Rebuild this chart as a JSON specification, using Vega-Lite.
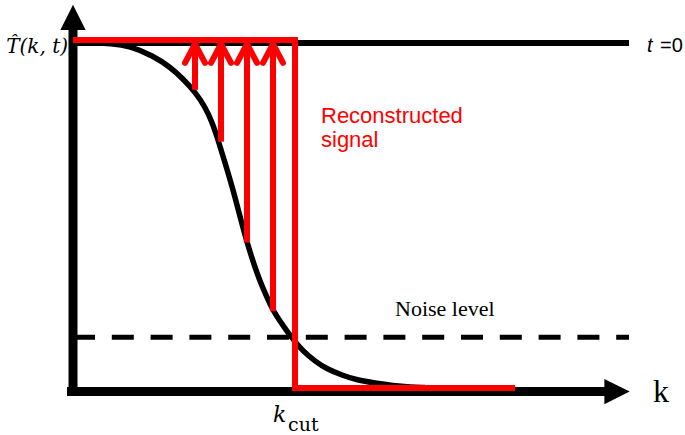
{
  "$schema": "https://vega.github.io/schema/vega-lite/v6.json",
  "width": 685,
  "height": 435,
  "autosize": {"type": "fit", "contains": "padding"},
  "padding": 0,
  "background": "white",
  "view": {"stroke": null},
  "config": {"axis": {"disable": true}},
  "datasets": {
    "guides": [
      {"kind": "dash", "x": 73, "y": 338, "x2": 629, "y2": 338},
      {"kind": "top", "x": 73, "y": 43, "x2": 629, "y2": 43}
    ],
    "axes": [
      {"x": 73, "y": 397, "x2": 73, "y2": 28},
      {"x": 67, "y": 392.5, "x2": 606, "y2": 392.5}
    ],
    "heads": [
      {"dir": "up", "x": 73, "y": 17.5},
      {"dir": "right", "x": 617, "y": 392.5}
    ],
    "curve": [
      {"x": 80, "y": 43}, {"x": 95, "y": 43}, {"x": 110, "y": 43.5}, {"x": 130, "y": 46}, {"x": 153, "y": 56},
      {"x": 170, "y": 67}, {"x": 183, "y": 79}, {"x": 195, "y": 92}, {"x": 205, "y": 107},
      {"x": 212, "y": 122}, {"x": 218, "y": 140}, {"x": 225, "y": 163}, {"x": 233, "y": 190},
      {"x": 240, "y": 217}, {"x": 247, "y": 243}, {"x": 254, "y": 265}, {"x": 260, "y": 282},
      {"x": 267, "y": 298}, {"x": 273, "y": 311}, {"x": 280, "y": 322}, {"x": 287, "y": 332},
      {"x": 293, "y": 340}, {"x": 303, "y": 352}, {"x": 315, "y": 362}, {"x": 327, "y": 370},
      {"x": 342, "y": 376}, {"x": 357, "y": 381}, {"x": 375, "y": 384}, {"x": 393, "y": 386.5},
      {"x": 410, "y": 388}, {"x": 425, "y": 388.5}
    ],
    "step": [
      {"i": 0, "x": 73, "y": 40},
      {"i": 1, "x": 295, "y": 40},
      {"i": 2, "x": 295, "y": 389},
      {"i": 3, "x": 515, "y": 389}
    ],
    "shafts": [
      {"x": 195, "y": 90, "y2": 44},
      {"x": 221, "y": 142, "y2": 44},
      {"x": 247, "y": 243, "y2": 44},
      {"x": 273, "y": 312, "y2": 44}
    ],
    "chevrons": [
      {"a": 1, "i": 0, "x": 185, "y": 63}, {"a": 1, "i": 1, "x": 195, "y": 44}, {"a": 1, "i": 2, "x": 205, "y": 63},
      {"a": 2, "i": 0, "x": 211, "y": 63}, {"a": 2, "i": 1, "x": 221, "y": 44}, {"a": 2, "i": 2, "x": 231, "y": 63},
      {"a": 3, "i": 0, "x": 237, "y": 63}, {"a": 3, "i": 1, "x": 247, "y": 44}, {"a": 3, "i": 2, "x": 257, "y": 63},
      {"a": 4, "i": 0, "x": 263, "y": 63}, {"a": 4, "i": 1, "x": 273, "y": 44}, {"a": 4, "i": 2, "x": 283, "y": 63}
    ],
    "labels": [
      {"kind": "that", "text": "T̂(k, t)", "x": 68, "y": 53},
      {"kind": "t", "text": "t", "x": 647, "y": 52},
      {"kind": "eq", "text": "=0", "x": 660, "y": 52},
      {"kind": "rec", "text": "Reconstructed", "x": 321, "y": 123},
      {"kind": "rec", "text": "signal", "x": 321, "y": 147},
      {"kind": "noise", "text": "Noise level", "x": 395, "y": 317},
      {"kind": "kc", "text": "k", "x": 273, "y": 423},
      {"kind": "cut", "text": "cut", "x": 288, "y": 432},
      {"kind": "kaxis", "text": "k", "x": 653, "y": 403}
    ]
  },
  "layer": [
    {
      "data": {"name": "guides"},
      "transform": [{"filter": "datum.kind === 'dash'"}],
      "mark": {"type": "rule", "color": "black", "strokeWidth": 5, "strokeDash": [22, 16.8], "strokeCap": "butt"},
      "encoding": {
        "x": {"field": "x", "type": "quantitative", "scale": {"domain": [0, 685], "nice": false, "zero": false}, "axis": null},
        "x2": {"field": "x2"},
        "y": {"field": "y", "type": "quantitative", "scale": {"domain": [0, 435], "nice": false, "zero": false, "reverse": true}, "axis": null},
        "y2": {"field": "y2"}
      }
    },
    {
      "data": {"name": "guides"},
      "transform": [{"filter": "datum.kind === 'top'"}],
      "mark": {"type": "rule", "color": "black", "strokeWidth": 6, "strokeCap": "butt"},
      "encoding": {
        "x": {"field": "x", "type": "quantitative", "axis": null},
        "x2": {"field": "x2"},
        "y": {"field": "y", "type": "quantitative", "axis": null},
        "y2": {"field": "y2"}
      }
    },
    {
      "data": {"name": "axes"},
      "mark": {"type": "rule", "color": "black", "strokeWidth": 9, "strokeCap": "butt"},
      "encoding": {
        "x": {"field": "x", "type": "quantitative", "axis": null},
        "x2": {"field": "x2"},
        "y": {"field": "y", "type": "quantitative", "axis": null},
        "y2": {"field": "y2"}
      }
    },
    {
      "data": {"name": "heads"},
      "mark": {"type": "point", "filled": true, "color": "black", "opacity": 1, "size": 640, "strokeWidth": 0},
      "encoding": {
        "x": {"field": "x", "type": "quantitative", "axis": null},
        "y": {"field": "y", "type": "quantitative", "axis": null},
        "shape": {"field": "dir", "type": "nominal", "scale": {"domain": ["up", "right"], "range": ["M0,-1L1,1L-1,1Z", "M1,0L-1,-1L-1,1Z"]}, "legend": null}
      }
    },
    {
      "data": {"name": "curve"},
      "mark": {"type": "line", "color": "black", "strokeWidth": 5.5, "interpolate": "basis"},
      "encoding": {
        "x": {"field": "x", "type": "quantitative", "axis": null},
        "y": {"field": "y", "type": "quantitative", "axis": null}
      }
    },
    {
      "data": {"name": "step"},
      "mark": {"type": "line", "color": "#ff0000", "strokeWidth": 6, "strokeJoin": "miter", "strokeCap": "butt"},
      "encoding": {
        "x": {"field": "x", "type": "quantitative", "axis": null},
        "y": {"field": "y", "type": "quantitative", "axis": null},
        "order": {"field": "i", "type": "quantitative"}
      }
    },
    {
      "data": {"name": "shafts"},
      "mark": {"type": "rule", "color": "#ff0000", "strokeWidth": 6, "strokeCap": "butt"},
      "encoding": {
        "x": {"field": "x", "type": "quantitative", "axis": null},
        "y": {"field": "y", "type": "quantitative", "axis": null},
        "y2": {"field": "y2"}
      }
    },
    {
      "data": {"name": "chevrons"},
      "mark": {"type": "line", "color": "#ff0000", "strokeWidth": 6, "strokeJoin": "miter", "strokeCap": "round"},
      "encoding": {
        "x": {"field": "x", "type": "quantitative", "axis": null},
        "y": {"field": "y", "type": "quantitative", "axis": null},
        "detail": {"field": "a", "type": "nominal"},
        "order": {"field": "i", "type": "quantitative"}
      }
    },
    {
      "data": {"name": "labels"},
      "transform": [{"filter": "datum.kind === 'that'"}],
      "mark": {"type": "text", "font": "DejaVu Serif", "fontStyle": "italic", "fontSize": 20, "align": "right", "baseline": "alphabetic", "color": "black"},
      "encoding": {
        "x": {"field": "x", "type": "quantitative", "axis": null},
        "y": {"field": "y", "type": "quantitative", "axis": null},
        "text": {"field": "text"}
      }
    },
    {
      "data": {"name": "labels"},
      "transform": [{"filter": "datum.kind === 't'"}],
      "mark": {"type": "text", "font": "Liberation Sans", "fontStyle": "italic", "fontSize": 20, "align": "left", "baseline": "alphabetic", "color": "black"},
      "encoding": {
        "x": {"field": "x", "type": "quantitative", "axis": null},
        "y": {"field": "y", "type": "quantitative", "axis": null},
        "text": {"field": "text"}
      }
    },
    {
      "data": {"name": "labels"},
      "transform": [{"filter": "datum.kind === 'eq'"}],
      "mark": {"type": "text", "font": "Liberation Sans", "fontSize": 20, "align": "left", "baseline": "alphabetic", "color": "black"},
      "encoding": {
        "x": {"field": "x", "type": "quantitative", "axis": null},
        "y": {"field": "y", "type": "quantitative", "axis": null},
        "text": {"field": "text"}
      }
    },
    {
      "data": {"name": "labels"},
      "transform": [{"filter": "datum.kind === 'rec'"}],
      "mark": {"type": "text", "font": "Liberation Sans", "fontSize": 22, "align": "left", "baseline": "alphabetic", "color": "#ff0000"},
      "encoding": {
        "x": {"field": "x", "type": "quantitative", "axis": null},
        "y": {"field": "y", "type": "quantitative", "axis": null},
        "text": {"field": "text"}
      }
    },
    {
      "data": {"name": "labels"},
      "transform": [{"filter": "datum.kind === 'noise'"}],
      "mark": {"type": "text", "font": "Liberation Serif", "fontSize": 22, "align": "left", "baseline": "alphabetic", "color": "black"},
      "encoding": {
        "x": {"field": "x", "type": "quantitative", "axis": null},
        "y": {"field": "y", "type": "quantitative", "axis": null},
        "text": {"field": "text"}
      }
    },
    {
      "data": {"name": "labels"},
      "transform": [{"filter": "datum.kind === 'kc'"}],
      "mark": {"type": "text", "font": "DejaVu Serif", "fontStyle": "italic", "fontSize": 22, "align": "left", "baseline": "alphabetic", "color": "black"},
      "encoding": {
        "x": {"field": "x", "type": "quantitative", "axis": null},
        "y": {"field": "y", "type": "quantitative", "axis": null},
        "text": {"field": "text"}
      }
    },
    {
      "data": {"name": "labels"},
      "transform": [{"filter": "datum.kind === 'cut'"}],
      "mark": {"type": "text", "font": "DejaVu Serif", "fontSize": 19, "align": "left", "baseline": "alphabetic", "color": "black"},
      "encoding": {
        "x": {"field": "x", "type": "quantitative", "axis": null},
        "y": {"field": "y", "type": "quantitative", "axis": null},
        "text": {"field": "text"}
      }
    },
    {
      "data": {"name": "labels"},
      "transform": [{"filter": "datum.kind === 'kaxis'"}],
      "mark": {"type": "text", "font": "Liberation Serif", "fontSize": 32, "align": "left", "baseline": "alphabetic", "color": "black"},
      "encoding": {
        "x": {"field": "x", "type": "quantitative", "axis": null},
        "y": {"field": "y", "type": "quantitative", "axis": null},
        "text": {"field": "text"}
      }
    }
  ]
}
